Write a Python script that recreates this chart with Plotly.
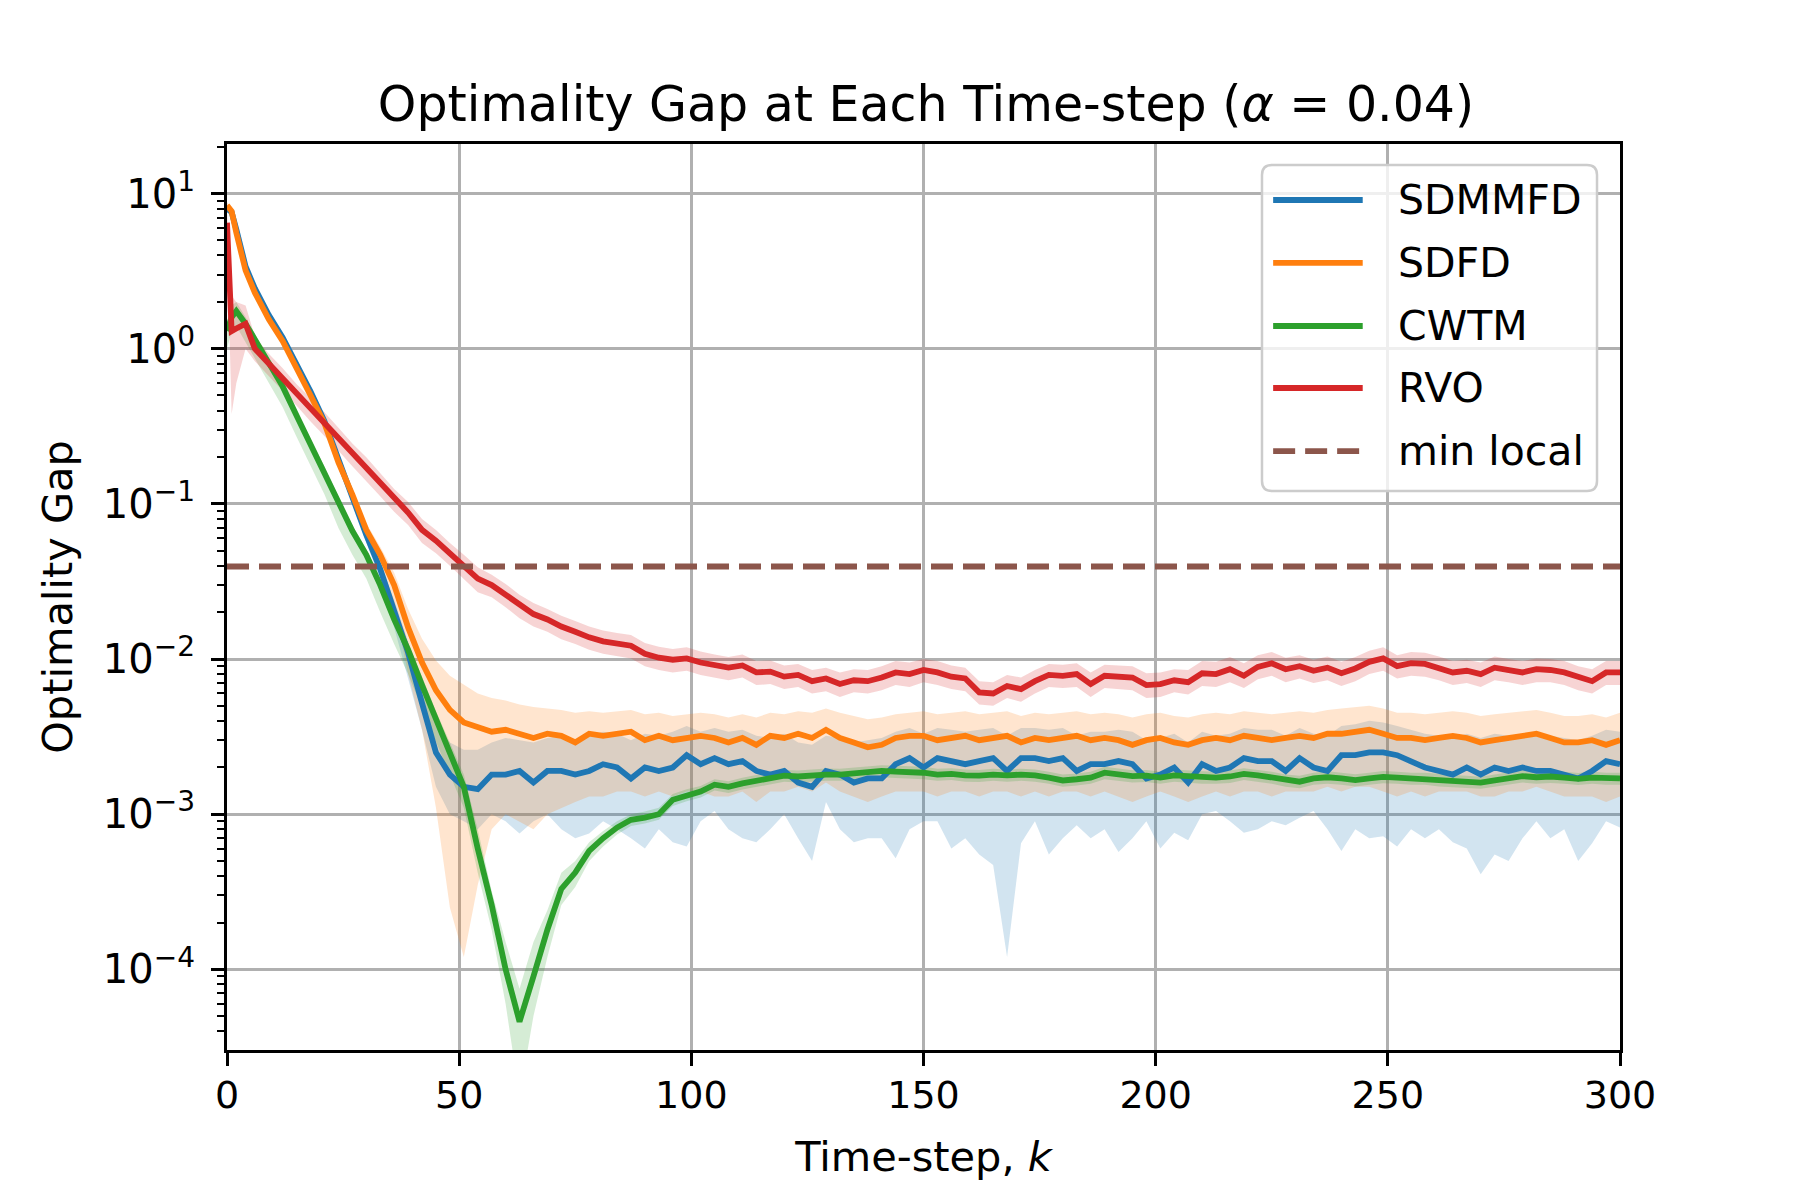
import plotly.graph_objects as go

# time-steps where values were read (k)
steps = [0, 1, 2, 4, 6] + list(range(9, 301, 3))

# SDMMFD
sdmmfd = [8.0, 7.6, 5.9, 3.4, 2.45, 1.65, 1.18, 0.8, 0.53, 0.34,
          0.19, 0.11, 0.063, 0.038, 0.021, 0.011, 0.0052, 0.0025, 0.0018, 0.0015,
          0.00145, 0.0018, 0.0018, 0.0019, 0.0016, 0.0019, 0.0019, 0.0018, 0.0019, 0.0021,
          0.0020, 0.0017, 0.0020, 0.0019, 0.0020, 0.0024, 0.0021, 0.0023, 0.0021, 0.0022,
          0.0019, 0.0018, 0.0019, 0.0016, 0.0015, 0.0019, 0.0018, 0.0016, 0.0017, 0.0017,
          0.0021, 0.0023, 0.0020, 0.0023, 0.0022, 0.0021, 0.0022, 0.0023, 0.0019, 0.0023,
          0.0023, 0.0022, 0.0023, 0.0019, 0.0021, 0.0021, 0.0022, 0.0021, 0.0017, 0.0018,
          0.0020, 0.0016, 0.0021, 0.0019, 0.0020, 0.0023, 0.0022, 0.0022, 0.0019, 0.0023,
          0.0020, 0.0019, 0.0024, 0.0024, 0.0025, 0.0025, 0.0024, 0.0022, 0.0020, 0.0019,
          0.0018, 0.0020, 0.0018, 0.0020, 0.0019, 0.0020, 0.0019, 0.0019, 0.0018, 0.0017,
          0.0019, 0.0022, 0.0021]
sdmmfd_hi = [8.4, 8.0, 6.2, 3.6, 2.6, 1.75, 1.25, 0.85, 0.56, 0.36,
             0.2, 0.116, 0.067, 0.041, 0.024, 0.013, 0.0068, 0.0038, 0.0029, 0.0026,
             0.0026, 0.0029, 0.0031, 0.0030, 0.0029, 0.0031, 0.0032, 0.0030, 0.0032, 0.0034,
             0.0033, 0.0030, 0.0033, 0.0032, 0.0034, 0.0037, 0.0034, 0.0036, 0.0034, 0.0035,
             0.0032, 0.0031, 0.0033, 0.0029, 0.0028, 0.0032, 0.0031, 0.0029, 0.0030, 0.0031,
             0.0034, 0.0036, 0.0033, 0.0036, 0.0035, 0.0034, 0.0035, 0.0036, 0.0032, 0.0036,
             0.0036, 0.0035, 0.0036, 0.0032, 0.0034, 0.0034, 0.0035, 0.0034, 0.0030, 0.0031,
             0.0033, 0.0029, 0.0034, 0.0032, 0.0033, 0.0036, 0.0035, 0.0035, 0.0032, 0.0036,
             0.0033, 0.0032, 0.0037, 0.0038, 0.0040, 0.0039, 0.0037, 0.0035, 0.0033, 0.0032,
             0.0031, 0.0033, 0.0031, 0.0033, 0.0032, 0.0033, 0.0032, 0.0032, 0.0031, 0.0030,
             0.0032, 0.0035, 0.0034]
sdmmfd_lo = [7.6, 7.2, 5.6, 3.2, 2.3, 1.55, 1.1, 0.75, 0.5, 0.32,
             0.175, 0.1, 0.056, 0.032, 0.016, 0.0075, 0.0035, 0.0015, 0.0010, 0.0009,
             0.0008, 0.0010, 0.0009, 0.00075, 0.0009, 0.0010, 0.0008, 0.0007, 0.00075, 0.0009,
             0.0008, 0.0007, 0.0006, 0.0008, 0.00066, 0.00062, 0.0009, 0.00105, 0.0008, 0.0007,
             0.00066, 0.0008, 0.0010, 0.0007, 0.0005, 0.0012, 0.0008, 0.00066, 0.0007, 0.0007,
             0.00052, 0.0008, 0.0009, 0.0009, 0.0006, 0.0007, 0.00055, 0.00047, 0.00012, 0.00065,
             0.0009, 0.00055, 0.0007, 0.00085, 0.0007, 0.0008, 0.00057, 0.0007, 0.0009, 0.0006,
             0.00076, 0.00068, 0.0010, 0.00105, 0.0009, 0.00076, 0.0008, 0.0009, 0.00085, 0.00095,
             0.00105, 0.0008, 0.00058, 0.0008, 0.0007, 0.00072, 0.00062, 0.0008, 0.0007, 0.0008,
             0.00066, 0.0006, 0.00041, 0.00055, 0.0005, 0.0007, 0.0009, 0.0007, 0.0008, 0.0005,
             0.00065, 0.0009, 0.00082]

# SDFD
sdfd = [8.4, 7.7, 5.6, 3.2, 2.3, 1.55, 1.12, 0.76, 0.5, 0.33,
        0.185, 0.115, 0.068, 0.047, 0.03, 0.016, 0.0095, 0.0063, 0.0047, 0.0039,
        0.0036, 0.0034, 0.0035, 0.0033, 0.0031, 0.0033, 0.0032, 0.0029, 0.0033, 0.0032,
        0.0033, 0.0034, 0.0030, 0.0032, 0.0030, 0.0031, 0.0032, 0.0031, 0.0029, 0.0031,
        0.0028, 0.0032, 0.0031, 0.0033, 0.0031, 0.0035, 0.0031, 0.0029, 0.0027, 0.0028,
        0.0031, 0.0032, 0.0032, 0.0030, 0.0031, 0.0032, 0.0030, 0.0031, 0.0032, 0.0029,
        0.0031, 0.0030, 0.0031, 0.0032, 0.0030, 0.0031, 0.0030, 0.0028, 0.0030, 0.0031,
        0.0029, 0.0028, 0.0030, 0.0031, 0.0030, 0.0032, 0.0031, 0.0030, 0.0031, 0.0032,
        0.0031, 0.0033, 0.0033, 0.0034, 0.0035, 0.0033, 0.0031, 0.0031, 0.0030, 0.0031,
        0.0032, 0.0031, 0.0029, 0.0030, 0.0031, 0.0032, 0.0033, 0.0031, 0.0029, 0.0029,
        0.0030, 0.0028, 0.0030]
sdfd_hi = [8.8, 8.1, 5.9, 3.35, 2.4, 1.62, 1.17, 0.8, 0.53, 0.35,
           0.2, 0.125, 0.075, 0.053, 0.036, 0.021, 0.0135, 0.0098, 0.0078, 0.0068,
           0.006, 0.0056, 0.0054, 0.0051, 0.0049, 0.0048, 0.0047, 0.0045, 0.0046, 0.0045,
           0.0046, 0.0047, 0.0044, 0.0045, 0.0043, 0.0044, 0.0045, 0.0044, 0.0042, 0.0044,
           0.0042, 0.0045, 0.0044, 0.0046, 0.0045, 0.0048, 0.0045, 0.0043, 0.0041, 0.0042,
           0.0044, 0.0045, 0.0046, 0.0044, 0.0045, 0.0046, 0.0044, 0.0045, 0.0046, 0.0043,
           0.0045, 0.0044, 0.0045, 0.0046, 0.0044, 0.0045, 0.0044, 0.0042, 0.0044, 0.0045,
           0.0043, 0.0042, 0.0044, 0.0045, 0.0044, 0.0046, 0.0045, 0.0044, 0.0045, 0.0046,
           0.0045, 0.0047, 0.0048, 0.0049, 0.0050, 0.0048, 0.0045, 0.0045, 0.0044, 0.0045,
           0.0046, 0.0045, 0.0043, 0.0044, 0.0045, 0.0046, 0.0047, 0.0045, 0.0043, 0.0043,
           0.0044, 0.0042, 0.0045]
sdfd_lo = [8.0, 7.3, 5.3, 3.05, 2.2, 1.48, 1.07, 0.72, 0.47, 0.31,
           0.17, 0.105, 0.06, 0.04, 0.022, 0.008, 0.0035, 0.0011, 0.00025, 0.00012,
           0.00035, 0.0008, 0.0010, 0.0009, 0.0008, 0.0010, 0.0011, 0.0012, 0.0013, 0.0013,
           0.0014, 0.0014, 0.0013, 0.0014, 0.0013, 0.0014, 0.0014, 0.0013, 0.0013, 0.0014,
           0.0012, 0.0014, 0.0014, 0.0015, 0.0014, 0.0016, 0.0014, 0.0013, 0.0012, 0.0013,
           0.0014, 0.0014, 0.0014, 0.0013, 0.0014, 0.0014, 0.0013, 0.0014, 0.0014, 0.0013,
           0.0014, 0.0013, 0.0014, 0.0014, 0.0013, 0.0014, 0.0013, 0.0012, 0.0013, 0.0014,
           0.0013, 0.0012, 0.0013, 0.0014, 0.0013, 0.0014, 0.0014, 0.0013, 0.0014, 0.0014,
           0.0014, 0.0015, 0.0014, 0.0015, 0.0015, 0.0014, 0.0013, 0.0014, 0.0013, 0.0014,
           0.0014, 0.0014, 0.0013, 0.0013, 0.0014, 0.0014, 0.0015, 0.0014, 0.0013, 0.0013,
           0.0013, 0.0012, 0.0013]

# CWTM
cwtm = [1.3, 1.6, 1.75, 1.45, 1.15, 0.8, 0.57, 0.37, 0.24, 0.16,
        0.1, 0.067, 0.047, 0.03, 0.018, 0.0115, 0.0068, 0.0041, 0.0025, 0.0015,
        0.0006, 0.00026, 0.0001, 0.000046, 0.00009, 0.00018, 0.00033, 0.00042, 0.00058, 0.0007,
        0.00082, 0.00092, 0.00095, 0.001, 0.00124, 0.00133, 0.0014, 0.00155, 0.0015, 0.00158,
        0.00164, 0.0017, 0.00177, 0.00175, 0.00178, 0.0018, 0.0018, 0.00183, 0.00187, 0.0019,
        0.00188, 0.00187, 0.00185, 0.0018, 0.00182, 0.00178, 0.00177, 0.0018, 0.00178, 0.0018,
        0.00178, 0.00172, 0.00165, 0.00168, 0.00172, 0.00185, 0.0018, 0.00176, 0.00177, 0.00172,
        0.00178, 0.00175, 0.00173, 0.00172, 0.00175, 0.00182, 0.00178, 0.00172, 0.00165, 0.00162,
        0.0017, 0.00173, 0.0017, 0.00166, 0.0017, 0.00174, 0.00172, 0.0017, 0.0017, 0.00166,
        0.00164, 0.00162, 0.0016, 0.00165, 0.0017, 0.00176, 0.00173, 0.00175, 0.00172, 0.00169,
        0.00172, 0.0017, 0.0017]
cwtm_hi = [1.5, 1.9, 2.0, 1.6, 1.25, 0.86, 0.61, 0.4, 0.26, 0.175,
           0.11, 0.073, 0.051, 0.033, 0.02, 0.0128, 0.0076, 0.0046, 0.0029, 0.0018,
           0.0008, 0.00032, 0.00015, 0.000075, 0.00015, 0.00024, 0.00042, 0.0005, 0.00066, 0.00078,
           0.0009, 0.001, 0.00104, 0.0011, 0.00135, 0.00145, 0.00152, 0.00168, 0.00163, 0.00172,
           0.00179, 0.00186, 0.00193, 0.00191, 0.00194, 0.00197, 0.00196, 0.002, 0.00204, 0.00207,
           0.00205, 0.00204, 0.00202, 0.00196, 0.00198, 0.00194, 0.00193, 0.00196, 0.00194, 0.00196,
           0.00194, 0.00188, 0.0018, 0.00183, 0.00188, 0.00202, 0.00196, 0.00192, 0.00193, 0.00188,
           0.00194, 0.00191, 0.00189, 0.00188, 0.00191, 0.00198, 0.00194, 0.00188, 0.0018, 0.00177,
           0.00185, 0.00189, 0.00185, 0.00181, 0.00185, 0.0019, 0.00188, 0.00185, 0.00185, 0.00181,
           0.00179, 0.00177, 0.00174, 0.0018, 0.00185, 0.00192, 0.00189, 0.00191, 0.00188, 0.00184,
           0.00188, 0.00185, 0.00185]
cwtm_lo = [1.0, 1.3, 1.4, 1.1, 0.85, 0.6, 0.42, 0.27, 0.175, 0.115,
           0.07, 0.047, 0.033, 0.02, 0.0125, 0.008, 0.0048, 0.0029, 0.0018, 0.0011,
           0.00042, 0.00018, 0.00006, 0.000015, 0.00005, 0.00012, 0.00026, 0.00034, 0.0005, 0.00062,
           0.00074, 0.00084, 0.00087, 0.00092, 0.00113, 0.00121, 0.00128, 0.00142, 0.00137, 0.00144,
           0.0015, 0.00155, 0.00162, 0.0016, 0.00162, 0.00164, 0.00164, 0.00167, 0.00171, 0.00173,
           0.00171, 0.0017, 0.00168, 0.00164, 0.00166, 0.00162, 0.00161, 0.00164, 0.00162, 0.00164,
           0.00162, 0.00157, 0.0015, 0.00153, 0.00157, 0.00168, 0.00164, 0.0016, 0.00161, 0.00157,
           0.00162, 0.00159, 0.00157, 0.00157, 0.00159, 0.00166, 0.00162, 0.00157, 0.0015, 0.00147,
           0.00155, 0.00157, 0.00155, 0.00151, 0.00155, 0.00158, 0.00157, 0.00155, 0.00155, 0.00151,
           0.00149, 0.00147, 0.00146, 0.0015, 0.00155, 0.0016, 0.00157, 0.00159, 0.00157, 0.00154,
           0.00157, 0.00155, 0.00155]

# RVO
rvo = [6.5, 1.3, 1.35, 1.45, 1.0, 0.8, 0.65, 0.51, 0.41, 0.33,
       0.265, 0.21, 0.17, 0.135, 0.107, 0.088, 0.068, 0.058, 0.048, 0.04,
       0.033, 0.03, 0.026, 0.022, 0.0195, 0.018, 0.0162, 0.015, 0.0138, 0.013,
       0.0125, 0.0122, 0.0108, 0.0102, 0.0099, 0.0101, 0.0095, 0.0091, 0.0088, 0.0091,
       0.0082, 0.0083, 0.0077, 0.0079, 0.0072, 0.0075, 0.0069, 0.0073, 0.0072, 0.0076,
       0.0082, 0.0080, 0.0085, 0.0082, 0.0077, 0.0075, 0.0061, 0.0060, 0.0067, 0.0064,
       0.0072, 0.0079, 0.0078, 0.0080, 0.0069, 0.0078, 0.0077, 0.0076, 0.0068, 0.0069,
       0.0073, 0.0071, 0.0081, 0.0080, 0.0086, 0.0078, 0.0089, 0.0094, 0.0086, 0.0090,
       0.0084, 0.0088, 0.0081, 0.0087, 0.0096, 0.0101, 0.0090, 0.0094, 0.0093, 0.0088,
       0.0082, 0.0084, 0.0080, 0.0088, 0.0085, 0.0082, 0.0086, 0.0085, 0.0082, 0.0076,
       0.0072, 0.0082, 0.0082]
rvo_hi = [7.6, 2.2, 2.0, 1.9, 1.2, 0.93, 0.75, 0.59, 0.48, 0.39,
          0.31, 0.245, 0.2, 0.158, 0.125, 0.103, 0.08, 0.068, 0.056, 0.047,
          0.039, 0.035, 0.0305, 0.026, 0.023, 0.021, 0.019, 0.0176, 0.0162, 0.0153,
          0.0147, 0.0143, 0.0127, 0.012, 0.0116, 0.0119, 0.0112, 0.0107, 0.0103, 0.0107,
          0.0097, 0.0098, 0.0091, 0.0093, 0.0085, 0.0088, 0.0082, 0.0086, 0.0085, 0.009,
          0.0097, 0.0095, 0.0100, 0.0097, 0.0091, 0.0088, 0.0072, 0.0071, 0.0079, 0.0076,
          0.0085, 0.0093, 0.0092, 0.0094, 0.0082, 0.0092, 0.0091, 0.009, 0.0081, 0.0082,
          0.0086, 0.0085, 0.0097, 0.0096, 0.0103, 0.0094, 0.0106, 0.0111, 0.0102, 0.0106,
          0.0099, 0.0104, 0.0096, 0.0103, 0.0113, 0.0119, 0.0106, 0.0111, 0.011, 0.0104,
          0.0097, 0.0099, 0.0095, 0.0104, 0.01, 0.0097, 0.0101, 0.01, 0.0097, 0.009,
          0.0086, 0.0097, 0.0097]
rvo_lo = [5.0, 0.38, 0.6, 1.0, 0.83, 0.67, 0.54, 0.43, 0.34, 0.275,
          0.22, 0.175, 0.141, 0.112, 0.089, 0.073, 0.056, 0.048, 0.04, 0.033,
          0.027, 0.025, 0.0216, 0.0183, 0.0162, 0.015, 0.0134, 0.0125, 0.0115, 0.0108,
          0.0104, 0.0101, 0.009, 0.0085, 0.0082, 0.0084, 0.0079, 0.0076, 0.0073, 0.0076,
          0.0068, 0.0069, 0.0064, 0.0066, 0.006, 0.0062, 0.0057, 0.0061, 0.006, 0.0063,
          0.0068, 0.0066, 0.0071, 0.0068, 0.0064, 0.0062, 0.0051, 0.005, 0.0056, 0.0053,
          0.006, 0.0066, 0.0065, 0.0066, 0.0057, 0.0065, 0.0064, 0.0063, 0.0056, 0.0057,
          0.0061, 0.0059, 0.0067, 0.0066, 0.0071, 0.0065, 0.0074, 0.0078, 0.0071, 0.0075,
          0.007, 0.0073, 0.0067, 0.0072, 0.008, 0.0084, 0.0075, 0.0078, 0.0077, 0.0073,
          0.0068, 0.007, 0.0066, 0.0073, 0.0071, 0.0068, 0.0071, 0.0071, 0.0068, 0.0063,
          0.006, 0.0068, 0.0068]

min_local = 0.0395
x_span = [0, 300]

# y axis ticks (log scale)
ytick_vals = [1e-4, 1e-3, 1e-2, 1e-1, 1e0, 1e1]
ytick_text = ["10<sup>−4</sup>", "10<sup>−3</sup>", "10<sup>−2</sup>",
              "10<sup>−1</sup>", "10<sup>0</sup>", "10<sup>1</sup>"]
yminor_vals = [m * 10.0 ** e for e in range(-5, 2) for m in range(2, 10)]

FONT = "DejaVu Sans"
LINE_W = 5.8
DASH = "22px,10px"

series = [
    ("SDMMFD", sdmmfd, sdmmfd_lo, sdmmfd_hi, "#1f77b4", "rgba(31,119,180,0.2)"),
    ("SDFD", sdfd, sdfd_lo, sdfd_hi, "#ff7f0e", "rgba(255,127,14,0.2)"),
    ("CWTM", cwtm, cwtm_lo, cwtm_hi, "#2ca02c", "rgba(44,160,44,0.2)"),
    ("RVO", rvo, rvo_lo, rvo_hi, "#d62728", "rgba(214,39,40,0.2)"),
]

fig = go.Figure()

# shaded bands first so every line sits above every band
for name, mid, lo, hi, color, fill in series:
    fig.add_trace(go.Scatter(x=steps, y=hi, mode="lines", line=dict(width=0),
                             showlegend=False, hoverinfo="skip"))
    fig.add_trace(go.Scatter(x=steps, y=lo, mode="lines", line=dict(width=0),
                             fill="tonexty", fillcolor=fill,
                             showlegend=False, hoverinfo="skip"))

for name, mid, lo, hi, color, fill in series:
    fig.add_trace(go.Scatter(x=steps, y=mid, mode="lines", name=name,
                             line=dict(color=color, width=LINE_W), showlegend=False))

fig.add_trace(go.Scatter(x=x_span, y=[min_local, min_local], mode="lines",
                         name="min local", showlegend=False,
                         line=dict(color="#8c564b", width=LINE_W, dash=DASH)))

# matplotlib-style legend box (rounded frame, long line samples)
bx0, bx1, by0, by1 = 0.743, 0.9835, 0.617, 0.9768
rx, ry = 0.0072, 0.011
box_path = (f"M {bx0 + rx},{by0} L {bx1 - rx},{by0} Q {bx1},{by0} {bx1},{by0 + ry} "
            f"L {bx1},{by1 - ry} Q {bx1},{by1} {bx1 - rx},{by1} "
            f"L {bx0 + rx},{by1} Q {bx0},{by1} {bx0},{by1 - ry} "
            f"L {bx0},{by0 + ry} Q {bx0},{by0} {bx0 + rx},{by0} Z")
fig.add_shape(type="path", path=box_path, xref="paper", yref="paper",
              fillcolor="rgba(255,255,255,0.8)", line=dict(color="#cccccc", width=2.5),
              layer="above")

legend_rows = [(name, color, "solid") for name, _, _, _, color, _ in series]
legend_rows.append(("min local", "#8c564b", DASH))
row_y = [0.9382, 0.8687, 0.7991, 0.7307, 0.6611]
for (name, color, dash), yy in zip(legend_rows, row_y):
    fig.add_shape(type="line", xref="paper", yref="paper",
                  x0=0.751, x1=0.8153, y0=yy, y1=yy,
                  line=dict(color=color, width=LINE_W, dash=dash), layer="above")
    fig.add_annotation(x=0.839, y=yy, xref="paper", yref="paper", text=name,
                       showarrow=False, xanchor="left", yanchor="middle",
                       font=dict(family=FONT, size=41, color="black"))

fig.update_layout(
    width=1800,
    height=1200,
    paper_bgcolor="white",
    plot_bgcolor="white",
    font=dict(family=FONT, size=38, color="black"),
    margin=dict(l=219, r=188, t=136, b=158),
    title=dict(
        text="Optimality Gap at Each Time-step (<i>α</i> = 0.04)",
        x=0.51,
        xanchor="center",
        y=0.92,
        yanchor="middle",
        font=dict(family=FONT, size=49, color="black"),
    ),
    xaxis=dict(
        range=[0, 300],
        dtick=50,
        ticks="outside",
        ticklen=13,
        tickwidth=2.5,
        tickcolor="black",
        ticklabelstandoff=-4,
        showline=True,
        linecolor="black",
        linewidth=3,
        mirror=True,
        showgrid=True,
        gridcolor="#b0b0b0",
        gridwidth=2.5,
        zeroline=False,
        title=dict(text="Time-step, <i>k</i>", standoff=27,
                   font=dict(family=FONT, size=41.5)),
    ),
    yaxis=dict(
        type="log",
        range=[-4.52, 1.32],
        tickmode="array",
        tickvals=ytick_vals,
        ticktext=ytick_text,
        tickfont=dict(family=FONT, size=40),
        ticks="outside",
        ticklen=13,
        tickwidth=2.5,
        tickcolor="black",
        ticklabelstandoff=8,
        minor=dict(tickmode="array", tickvals=yminor_vals, ticks="outside",
                   ticklen=7, tickwidth=2, tickcolor="black", showgrid=False),
        showline=True,
        linecolor="black",
        linewidth=3,
        mirror=True,
        showgrid=True,
        gridcolor="#b0b0b0",
        gridwidth=2.5,
        zeroline=False,
        title=dict(text="Optimality Gap", standoff=18,
                   font=dict(family=FONT, size=41.5)),
    ),
    showlegend=False,
)

fig.write_html("out.html")
